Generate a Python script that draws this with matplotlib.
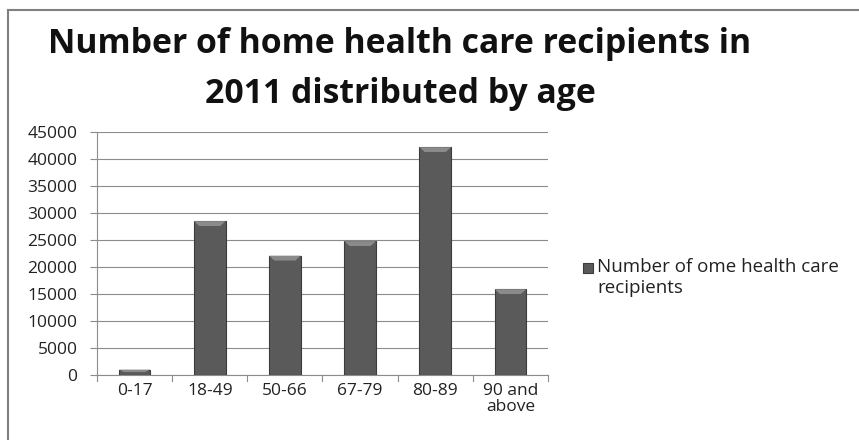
import matplotlib.pyplot as plt
from matplotlib.lines import Line2D
from matplotlib.patches import Polygon

age_groups = ["0-17", "18-49", "50-66", "67-79", "80-89", "90 and\nabove"]
recipients = [900, 28400, 22000, 24700, 42100, 15800]
series_name = "Number of ome health care\nrecipients"

plt.rcParams["font.family"] = ["Open Sans", "DejaVu Sans"]

W, H = 859, 440
fig = plt.figure(figsize=(W / 100, H / 100), dpi=100)
fig.patch.set_facecolor("white")

# plot area in pixels: left 97, right 548, top 131.5, bottom 374.5
ax = fig.add_axes([97 / W, 1 - 374.5 / H, (548 - 97) / W, (374.5 - 131.5) / H])

x = list(range(len(age_groups)))
bars = ax.bar(x, recipients, width=0.42, color="#5a5a5a", edgecolor="#3c3c3c",
              linewidth=0.8, zorder=3)

# bevel highlight on top of each bar
for b in bars:
    x0, w, h = b.get_x(), b.get_width(), b.get_height()
    d = min(0.07, w * 0.2)
    cap = min(900, h * 0.5)
    ax.add_patch(Polygon([(x0, h), (x0 + w, h), (x0 + w - d, h - cap), (x0 + d, h - cap)],
                         closed=True, facecolor="#8a8a8a", edgecolor="none", zorder=4))

ax.set_xlim(-0.5, len(age_groups) - 0.5)
ax.set_ylim(0, 45000)
ax.set_yticks(range(0, 45001, 5000))
ax.set_xticks(x)
ax.set_xticklabels(age_groups, fontsize=12.5, color="#222222", linespacing=1.05)
ax.tick_params(axis="y", labelsize=12.5, colors="#222222", length=5, color="#8c8c8c",
               width=0.8, pad=9)
ax.tick_params(axis="x", length=0, pad=6)
for i in range(len(age_groups) + 1):
    ax.plot([i - 0.5, i - 0.5], [0, -0.025], transform=ax.get_xaxis_transform(),
            color="#8c8c8c", lw=0.8, clip_on=False)
ax.grid(axis="y", color="#8c8c8c", linewidth=0.8, zorder=0)
for side in ["top", "right"]:
    ax.spines[side].set_visible(False)
ax.spines["left"].set_color("#8c8c8c")
ax.spines["bottom"].set_color("#8c8c8c")

fig.text(400 / W, 1 - 69 / H, "Number of home health care recipients in\n2011 distributed by age",
         ha="center", va="center", fontsize=24.3, fontweight="bold", color="#111111",
         linespacing=1.6)

# legend
fig.patches.append(plt.Rectangle((583 / W, 1 - 273 / H), 10 / W, 10 / H,
                                 transform=fig.transFigure, facecolor="#5a5a5a",
                                 edgecolor="#3c3c3c", lw=0.8))
fig.text(597 / W, 1 - 258 / H, series_name, ha="left", va="top", fontsize=13.5,
         color="#222222", linespacing=1.2)

# chart border (top and left edges only visible)
fig.add_artist(Line2D([8 / W, 1], [1 - 10 / H, 1 - 10 / H], transform=fig.transFigure,
                      color="#808080", lw=1.5))
fig.add_artist(Line2D([8 / W, 8 / W], [0, 1 - 10 / H], transform=fig.transFigure,
                      color="#808080", lw=1.5))

fig.savefig("out.png", dpi=100)
